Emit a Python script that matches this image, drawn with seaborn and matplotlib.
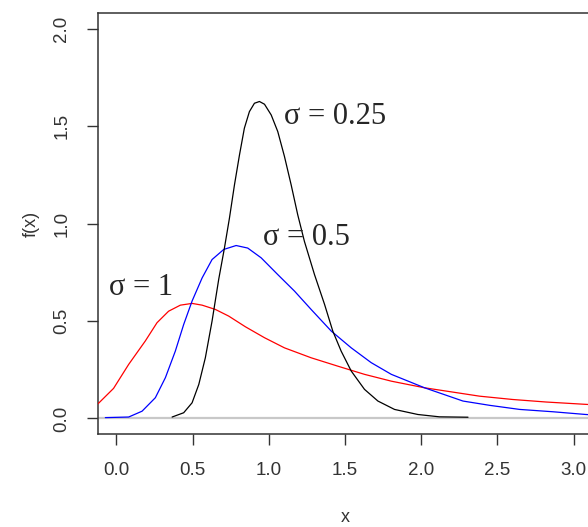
import matplotlib
matplotlib.use("Agg")
import matplotlib.pyplot as plt
import seaborn as sns
import pandas as pd

sns.set_style("white")
plt.rcParams["font.family"] = ["Liberation Sans", "DejaVu Sans"]

# Density curves read at selected x positions
x_s1 = [-0.12, -0.018, 0.081, 0.19, 0.267, 0.343, 0.42, 0.497, 0.563, 0.65, 0.737,
        0.847, 0.972, 1.103, 1.278, 1.453, 1.628, 1.804, 2.022, 2.165, 2.383, 2.6,
        2.82, 3.08, 3.13]
y_s1 = [0.075, 0.154, 0.277, 0.397, 0.491, 0.55, 0.581, 0.59, 0.581, 0.559, 0.525,
        0.470, 0.414, 0.362, 0.311, 0.268, 0.226, 0.191, 0.157, 0.14, 0.114, 0.097,
        0.084, 0.072, 0.070]

x_s05 = [-0.072, 0.081, 0.169, 0.256, 0.322, 0.387, 0.442, 0.497, 0.563, 0.628,
         0.705, 0.786, 0.862, 0.95, 1.059, 1.169, 1.278, 1.41, 1.541, 1.672, 1.804,
         2.022, 2.274, 2.449, 2.646, 2.865, 3.08, 3.13]
y_s05 = [0.004, 0.007, 0.037, 0.106, 0.209, 0.345, 0.482, 0.602, 0.721, 0.815,
         0.867, 0.887, 0.874, 0.824, 0.738, 0.653, 0.559, 0.448, 0.362, 0.286, 0.226,
         0.157, 0.089, 0.067, 0.046, 0.034, 0.02, 0.018]

x_s025 = [0.366, 0.442, 0.497, 0.541, 0.584, 0.628, 0.672, 0.709, 0.742, 0.775,
          0.808, 0.840, 0.873, 0.906, 0.939, 0.972, 1.016, 1.059, 1.103, 1.147,
          1.19, 1.234, 1.30, 1.366, 1.42, 1.475, 1.541, 1.628, 1.716, 1.825, 1.978,
          2.12, 2.307]
y_s025 = [0.007, 0.029, 0.08, 0.174, 0.311, 0.499, 0.715, 0.873, 1.027, 1.198,
          1.352, 1.489, 1.574, 1.617, 1.626, 1.612, 1.557, 1.472, 1.344, 1.198,
          1.045, 0.908, 0.738, 0.585, 0.448, 0.345, 0.243, 0.149, 0.089, 0.046, 0.02,
          0.008, 0.006]

x_ticks = [0.0, 0.5, 1.0, 1.5, 2.0, 2.5, 3.0]
y_ticks = [0.0, 0.5, 1.0, 1.5, 2.0]

curves = [
    (x_s1, y_s1, "#ff0000"),
    (x_s05, y_s05, "#0000ff"),
    (x_s025, y_s025, "#000000"),
]

fig = plt.figure(figsize=(5.88, 5.27), dpi=100)
ax = fig.add_axes([0.1667, 0.1765, 0.840, 0.7988])

ax.axhline(0, color="#c8c8c8", lw=1.6, zorder=1)

for xs, ys, col in curves:
    df = pd.DataFrame({"x": xs, "f": ys})
    sns.lineplot(data=df, x="x", y="f", color=col, lw=0.9, sort=False,
                 estimator=None, ax=ax, zorder=3)

ax.set_xlim(-0.12, 3.12)
ax.set_ylim(-0.08, 2.08)
ax.set_xticks(x_ticks)
ax.set_yticks(y_ticks)
ax.set_xticklabels([f"{v:.1f}" for v in x_ticks])
ax.set_yticklabels([f"{v:.1f}" for v in y_ticks], rotation=90, va="center")

for s in ax.spines.values():
    s.set_color("#333333")
    s.set_linewidth(1.1)

ax.tick_params(axis="both", direction="out", length=8, width=1.0, color="#333333",
               labelsize=13.5, labelcolor="#333333", pad=12, left=True, bottom=True)
ax.set_xlabel("x", fontsize=13, color="#333333", labelpad=22)
ax.set_ylabel("f(x)", fontsize=13, color="#333333", labelpad=10)

serif = ["Liberation Serif", "DejaVu Serif"]
ax.text(1.10, 1.55, "σ = 0.25", fontsize=22, family=serif, va="center", ha="left")
ax.text(0.96, 0.93, "σ = 0.5", fontsize=22, family=serif, va="center", ha="left")
ax.text(-0.05, 0.67, "σ = 1", fontsize=22, family=serif, va="center", ha="left")

fig.savefig("out.png", dpi=100)
